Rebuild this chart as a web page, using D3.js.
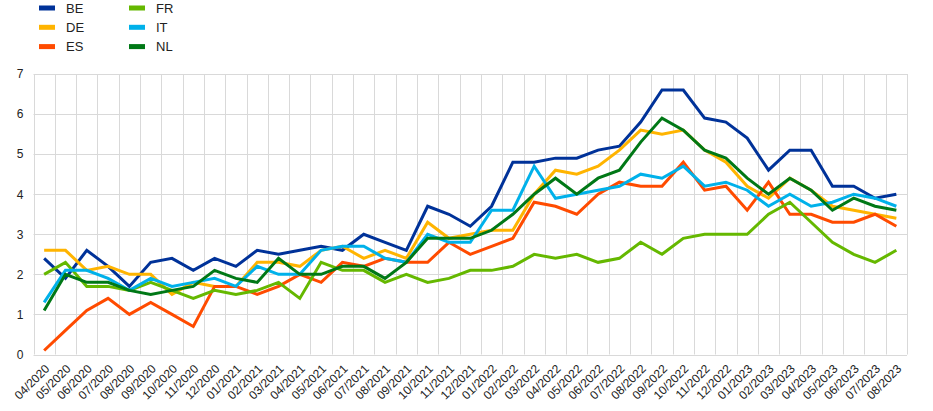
<!DOCTYPE html>
<html>
<head>
<meta charset="utf-8">
<script src="https://cdn.jsdelivr.net/npm/d3@7"></script>
<style>
  html, body { margin: 0; padding: 0; background: #fff; }
  svg { display: block; font-family: "Liberation Sans", Arial, sans-serif; }
</style>
</head>
<body>
<svg id="chart" width="933" height="411"></svg>
<script>
const months = ["04/2020","05/2020","06/2020","07/2020","08/2020","09/2020","10/2020","11/2020","12/2020",
  "01/2021","02/2021","03/2021","04/2021","05/2021","06/2021","07/2021","08/2021","09/2021","10/2021","11/2021","12/2021",
  "01/2022","02/2022","03/2022","04/2022","05/2022","06/2022","07/2022","08/2022","09/2022","10/2022","11/2022","12/2022",
  "01/2023","02/2023","03/2023","04/2023","05/2023","06/2023","07/2023","08/2023"];

const BE = [2.4,1.9,2.6,2.2,1.7,2.3,2.4,2.1,2.4,2.2, 2.6,2.5,2.6,2.7,2.6,3.0,2.8,2.6,3.7,3.5, 3.2,3.7,4.8,4.8,4.9,4.9,5.1,5.2,5.8,6.6, 6.6,5.9,5.8,5.4,4.6,5.1,5.1,4.2,4.2,3.9,4.0];
const DE = [2.6,2.6,2.1,2.2,2.0,2.0,1.5,1.8,1.7,1.7, 2.3,2.3,2.2,2.6,2.7,2.4,2.6,2.4,3.3,2.9, 3.0,3.1,3.1,4.0,4.6,4.5,4.7,5.1,5.6,5.5, 5.6,5.1,4.8,4.2,3.9,4.4,4.1,3.7,3.6,3.5,3.4];
const ES = [0.1,0.6,1.1,1.4,1.0,1.3,1.0,0.7,1.7,1.7, 1.5,1.7,2.0,1.8,2.3,2.2,2.4,2.3,2.3,2.8, 2.5,2.7,2.9,3.8,3.7,3.5,4.0,4.3,4.2,4.2, 4.8,4.1,4.2,3.6,4.3,3.5,3.5,3.3,3.3,3.5,3.2];
const FR = [2.0,2.3,1.7,1.7,1.6,1.8,1.6,1.4,1.6,1.5, 1.6,1.8,1.4,2.3,2.1,2.1,1.8,2.0,1.8,1.9, 2.1,2.1,2.2,2.5,2.4,2.5,2.3,2.4,2.8,2.5, 2.9,3.0,3.0,3.0,3.5,3.8,3.3,2.8,2.5,2.3,2.6];
const IT = [1.3,2.1,2.1,1.9,1.6,1.9,1.7,1.8,1.9,1.7, 2.2,2.0,2.0,2.6,2.7,2.7,2.4,2.3,3.0,2.8, 2.8,3.6,3.6,4.7,3.9,4.0,4.1,4.2,4.5,4.4, 4.7,4.2,4.3,4.1,3.7,4.0,3.7,3.8,4.0,3.9,3.7];
const NL = [1.1,2.0,1.8,1.8,1.6,1.5,1.6,1.7,2.1,1.9, 1.8,2.4,2.0,2.0,2.2,2.2,1.9,2.3,2.9,2.9, 2.9,3.1,3.5,4.0,4.4,4.0,4.4,4.6,5.3,5.9, 5.6,5.1,4.9,4.4,4.0,4.4,4.1,3.6,3.9,3.7,3.6];

const seriesNames = ["BE","DE","ES","FR","IT","NL"];
const seriesValues = [BE, DE, ES, FR, IT, NL];
const seriesColors = ["#003299","#FFB400","#FF4B00","#65B800","#00B1EA","#007816"];
const yTicks = [0,1,2,3,4,5,6,7];

const svg = d3.select("#chart");
const margin = {left: 33.5, right: 26, top: 74, bottom: 56.5};
const W = 933, H = 411;
const x = d3.scaleBand().domain(months).range([margin.left, W - margin.right]).padding(0);
const y = d3.scaleLinear().domain([0, 7]).range([H - margin.bottom, margin.top]);

const grid = "#d9d9d9";
// horizontal gridlines
svg.append("g").selectAll("line").data(yTicks).join("line")
  .attr("x1", margin.left).attr("x2", W - margin.right)
  .attr("y1", d => Math.round(y(d)) + 0.5).attr("y2", d => Math.round(y(d)) + 0.5)
  .attr("stroke", grid).attr("stroke-width", 1);
// vertical gridlines at band boundaries
const bounds = months.map(m => x(m)).concat([x(months[months.length-1]) + x.bandwidth()]);
svg.append("g").selectAll("line").data(bounds).join("line")
  .attr("x1", d => Math.round(d) + 0.5).attr("x2", d => Math.round(d) + 0.5)
  .attr("y1", y(7)).attr("y2", y(0))
  .attr("stroke", grid).attr("stroke-width", 1);

// y axis labels
const yAxis = d3.axisLeft(y).tickValues(yTicks).tickSize(0).tickPadding(10).tickFormat(d3.format("d"));
const gy = svg.append("g").attr("transform", `translate(${margin.left},0)`).call(yAxis);
gy.select(".domain").remove();
gy.selectAll("text").attr("font-size", 12).attr("fill", "#222").attr("font-family", "Liberation Sans, Arial, sans-serif");

// x axis labels
const xAxis = d3.axisBottom(x).tickSize(0).tickPadding(0);
const gx = svg.append("g").attr("transform", `translate(0,${H - margin.bottom})`).call(xAxis);
gx.select(".domain").remove();
gx.selectAll("text")
  .attr("font-size", 12).attr("fill", "#222").attr("font-family", "Liberation Sans, Arial, sans-serif")
  .attr("text-anchor", "end").attr("dy", "0.35em")
  .attr("transform", "translate(3,12) rotate(-45)")
  .attr("y", 0).attr("x", 0);

// lines
const line = d3.line().x((d, i) => x(months[i]) + x.bandwidth() / 2).y(d => y(d));
svg.append("g").selectAll("path").data(seriesValues).join("path")
  .attr("d", d => line(d))
  .attr("fill", "none")
  .attr("stroke", (d, i) => seriesColors[i])
  .attr("stroke-width", 3)
  .attr("stroke-linejoin", "miter")
  .attr("stroke-linecap", "butt");

// legend
const legend = svg.append("g");
const items = legend.selectAll("g").data(seriesNames).join("g")
  .attr("transform", (d, i) => `translate(${39 + Math.floor(i / 3) * 90},${8 + (i % 3) * 19.3})`);
items.append("rect").attr("x", 0).attr("y", -2.5).attr("width", 16).attr("height", 5)
  .attr("fill", (d, i) => seriesColors[i]);
items.append("text").attr("x", 27).attr("y", 0).attr("dy", "0.36em")
  .attr("font-size", 13).attr("fill", "#222")
  .text(d => d);
</script>
</body>
</html>
